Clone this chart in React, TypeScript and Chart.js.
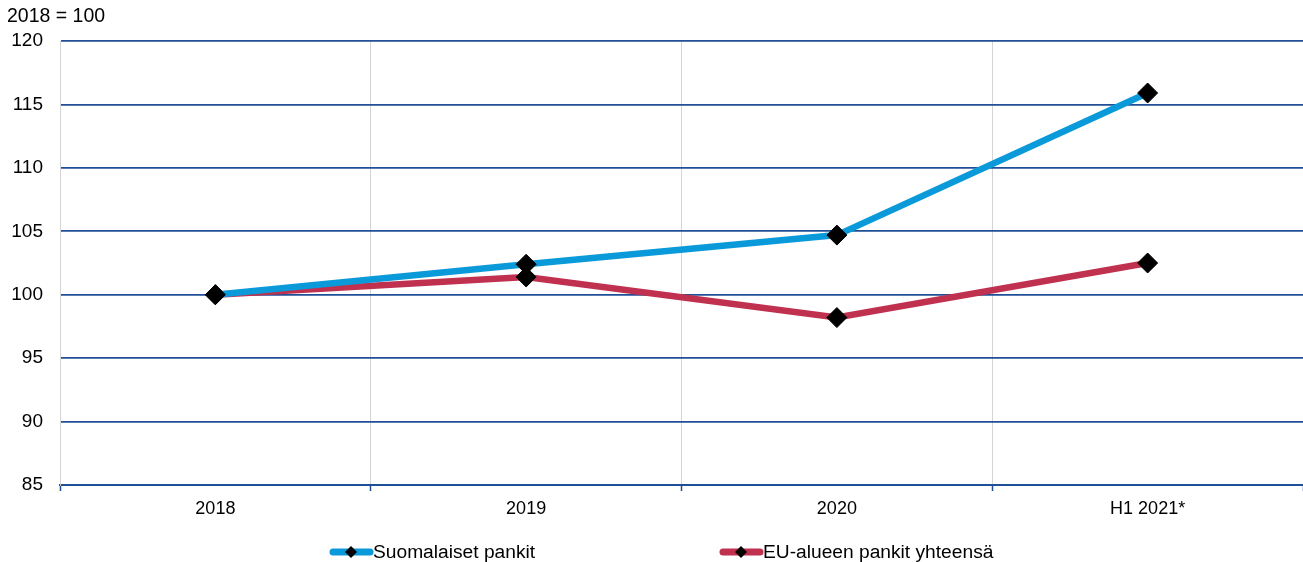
import React, { useEffect, useRef } from "react";
import { Chart, registerables } from "chart.js";

Chart.register(...registerables);

const categories = ["2018", "2019", "2020", "H1 2021*"];
const finnishBanks = [100, 102.4, 104.7, 115.9];
const euroAreaBanks = [100, 101.4, 98.2, 102.5];
const seriesNames = ["Suomalaiset pankit", "EU-alueen pankit yhteensä"];
const unitLabel = "2018 = 100";

const FONT = "'Liberation Sans', Arial, sans-serif";
const BLUE = "#0b9ad9";
const RED = "#c0304f";
const GRID_BLUE = "#1f4f96";
const GRID_GREY = "#d4d4d4";

const overlayPlugin = {
  id: "overlay",
  afterDraw(chart: any) {
    const ctx = chart.ctx;
    ctx.save();
    // unit label in the top-left corner
    ctx.fillStyle = "#000";
    ctx.font = `19.5px ${FONT}`;
    ctx.textBaseline = "middle";
    ctx.textAlign = "left";
    ctx.fillText(unitLabel, 7, 17);

    // legend: thick line with a diamond marker, then the series name
    const items = [
      { x: 330, color: BLUE, text: seriesNames[0] },
      { x: 720, color: RED, text: seriesNames[1] },
    ];
    const y = 552;
    items.forEach((it) => {
      ctx.strokeStyle = it.color;
      ctx.lineWidth = 7;
      ctx.lineCap = "round";
      ctx.beginPath();
      ctx.moveTo(it.x + 3, y);
      ctx.lineTo(it.x + 40, y);
      ctx.stroke();
      const cx = it.x + 21;
      const r = 6;
      ctx.fillStyle = "#000";
      ctx.beginPath();
      ctx.moveTo(cx, y - r);
      ctx.lineTo(cx + r, y);
      ctx.lineTo(cx, y + r);
      ctx.lineTo(cx - r, y);
      ctx.closePath();
      ctx.fill();
      ctx.font = `19.2px ${FONT}`;
      ctx.textBaseline = "middle";
      ctx.fillText(it.text, it.x + 43, y + 1);
    });
    ctx.restore();
  },
};

export default function App() {
  const canvasRef = useRef<HTMLCanvasElement | null>(null);

  useEffect(() => {
    if (!canvasRef.current) return;
    const chart = new Chart(canvasRef.current, {
      type: "line",
      data: {
        labels: categories,
        datasets: [
          {
            label: seriesNames[0],
            data: finnishBanks,
            borderColor: BLUE,
            backgroundColor: "#000",
            borderWidth: 6.5,
            pointStyle: "rectRot",
            pointRadius: 10,
            pointBackgroundColor: "#000",
            pointBorderColor: "#000",
            pointBorderWidth: 1,
            tension: 0,
          },
          {
            label: seriesNames[1],
            data: euroAreaBanks,
            borderColor: RED,
            backgroundColor: "#000",
            borderWidth: 6.5,
            pointStyle: "rectRot",
            pointRadius: 10,
            pointBackgroundColor: "#000",
            pointBorderColor: "#000",
            pointBorderWidth: 1,
            tension: 0,
          },
        ],
      },
      options: {
        animation: false,
        responsive: true,
        maintainAspectRatio: false,
        layout: { autoPadding: false, padding: { top: 41, right: 0, bottom: 0, left: 0 } },
        plugins: {
          legend: { display: false },
          tooltip: { enabled: false },
        },
        scales: {
          x: {
            offset: true,
            grid: {
              offset: true,
              color: GRID_GREY,
              lineWidth: 1,
              drawTicks: true,
              tickLength: 6,
              tickColor: GRID_BLUE,
              tickWidth: 1.5,
            },
            border: { color: GRID_BLUE, width: 2 },
            ticks: {
              color: "#000",
              font: { family: FONT, size: 18 },
              padding: 7,
              maxRotation: 0,
            },
            afterFit: (s: any) => {
              s.height = 77;
            },
          },
          y: {
            min: 85,
            max: 120,
            ticks: {
              stepSize: 5,
              color: "#000",
              font: { family: FONT, size: 19 },
              padding: 17,
            },
            grid: {
              color: GRID_BLUE,
              lineWidth: 1.8,
              drawTicks: false,
            },
            border: { color: GRID_GREY, width: 1 },
            afterFit: (s: any) => {
              s.width = 60;
            },
          },
        },
      },
      plugins: [overlayPlugin],
    });
    return () => chart.destroy();
  }, []);

  return (
    <div style={{ position: "fixed", left: 0, top: 0, width: 1303, height: 562 }}>
      <canvas ref={canvasRef} />
    </div>
  );
}
